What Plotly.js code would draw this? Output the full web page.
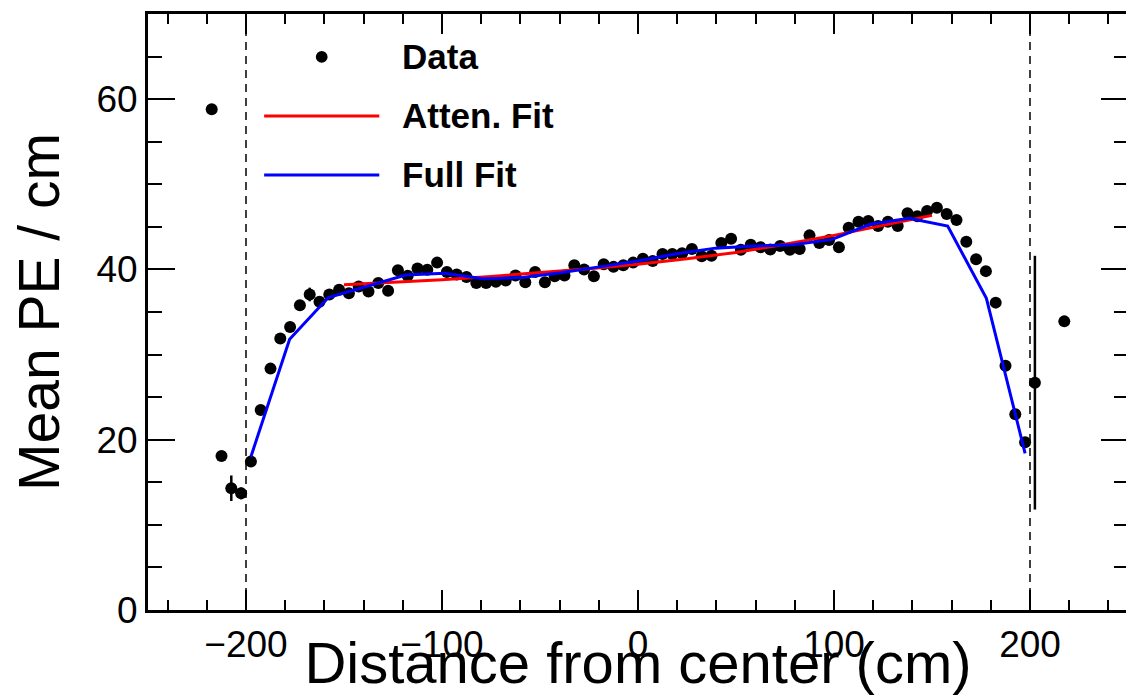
<!DOCTYPE html>
<html>
<head>
<meta charset="utf-8">
<script src="https://cdn.plot.ly/plotly-3.0.1.min.js"></script>
<style>html,body{margin:0;padding:0;overflow:hidden;background:#fff;}#plot{width:1128px;height:695px;}</style>
</head>
<body>
<div id="plot"></div>
<script>
// Data: mean PE per cm vs distance from center
const dataX = [-217.5,-212.5,-207.5,-202.5,-197.5,-192.5,-187.5,-182.5,-177.5,-172.5,-167.5,-162.5,-157.5,-152.5,-147.5,-142.5,-137.5,-132.5,-127.5,-122.5,-117.5,-112.5,-107.5,-102.5,-97.5,-92.5,-87.5,-82.5,-77.5,-72.5,-67.5,-62.5,-57.5,-52.5,-47.5,-42.5,-37.5,-32.5,-27.5,-22.5,-17.5,-12.5,-7.5,-2.5,2.5,7.5,12.5,17.5,22.5,27.5,32.5,37.5,42.5,47.5,52.5,57.5,62.5,67.5,72.5,77.5,82.5,87.5,92.5,97.5,102.5,107.5,112.5,117.5,122.5,127.5,132.5,137.5,142.5,147.5,152.5,157.5,162.5,167.5,172.5,177.5,182.5,187.5,192.5,197.5,202.5,217.5];
const dataY = [58.8,18.1,14.3,13.7,17.45,23.5,28.35,31.9,33.25,35.8,37.06,36.2,37.06,37.6,37.2,38.0,37.4,38.4,37.5,39.9,39.25,40.1,39.95,40.8,39.7,39.4,39.1,38.4,38.4,38.55,38.7,39.3,38.5,39.7,38.5,39.2,39.3,40.5,40.0,39.2,40.6,40.3,40.5,40.8,41.25,41.0,41.8,41.8,41.9,42.4,41.55,41.6,43.1,43.6,42.3,42.9,42.6,42.35,42.75,42.3,42.4,44.0,43.1,43.45,42.6,44.9,45.6,45.7,45.1,45.6,45.1,46.6,46.25,46.85,47.25,46.5,45.8,43.25,41.2,39.8,36.1,28.7,23.0,19.7,26.7,33.9];
const dataErr = [0.5,0.4,1.5,0.7,0.4,0.35,0.35,0.35,0.35,0.35,0.8,0.35,0.35,0.35,0.35,0.35,0.35,0.35,0.35,0.35,0.35,0.35,0.35,0.35,0.35,0.35,0.35,0.35,0.35,0.35,0.35,0.35,0.35,0.35,0.35,0.35,0.35,0.35,0.35,0.35,0.35,0.35,0.35,0.35,0.35,0.35,0.35,0.35,0.35,0.35,0.35,0.35,0.35,0.35,0.35,0.35,0.35,0.35,0.35,0.35,0.35,0.35,0.35,0.35,0.35,0.35,0.35,0.35,0.35,0.35,0.35,0.35,0.35,0.35,0.35,0.35,0.35,0.35,0.35,0.35,0.35,0.35,0.35,0.4,14.9,0.5];

// Attenuation fit curve
const attenX = [-150,-125,-100,-75,-50,-25,0,25,50,75,100,125,150];
const attenY = [38.2,38.48,38.8,39.18,39.6,40.08,40.6,41.25,42.0,42.95,44.0,45.15,46.35];

// Full fit curve
const fullX = [-197.5,-177.75,-158,-138.25,-118.5,-98.75,-79,-59.25,-39.5,-19.75,0,19.75,39.5,59.25,79,98.75,118.5,138.25,158,177.75,197.5];
const fullY = [18.0,31.8,36.7,38.0,39.35,39.55,38.9,39.05,39.6,40.3,41.0,41.85,42.5,42.75,42.9,43.5,45.3,46.0,45.1,36.6,18.4];

// Fiducial boundaries
const boundaryX = [-200, 200];

const legendNames = ['Data', 'Atten. Fit', 'Full Fit'];

const FONT = 'Liberation Sans, Arial, Helvetica, sans-serif';

const traces = [
  {x: dataX, y: dataY, type: 'scatter', mode: 'markers', name: legendNames[0],
   marker: {color: '#000', size: 12},
   error_y: {type: 'data', array: dataErr, visible: true, color: '#000', thickness: 2.5, width: 0}},
  {x: attenX, y: attenY, type: 'scatter', mode: 'lines', name: legendNames[1],
   line: {color: '#ff0000', width: 3}},
  {x: fullX, y: fullY, type: 'scatter', mode: 'lines', name: legendNames[2],
   line: {color: '#0000ff', width: 3}}
];

const shapes = boundaryX.map(v => ({type: 'line', xref: 'x', yref: 'y', x0: v, x1: v, y0: 0, y1: 70,
  line: {color: '#000', width: 1.5, dash: '8px,6px'}}));

// Legend drawn by hand to match the original layout
const legX0 = 0.1185, legX1 = 0.236, legTextX = 0.2575;
const legY = [0.928, 0.829, 0.730];
const legColors = ['#000', '#ff0000', '#0000ff'];
shapes.push({type: 'circle', xref: 'paper', yref: 'paper',
  x0: (legX0 + legX1) / 2 - 0.006, x1: (legX0 + legX1) / 2 + 0.006,
  y0: legY[0] - 0.0099, y1: legY[0] + 0.0099, fillcolor: '#000', line: {width: 0}});
for (let i = 1; i < 3; i++) {
  shapes.push({type: 'line', xref: 'paper', yref: 'paper', x0: legX0, x1: legX1, y0: legY[i], y1: legY[i],
    line: {color: legColors[i], width: 3}});
}
const annotations = legendNames.map((n, i) => ({xref: 'paper', yref: 'paper', x: legTextX, y: legY[i],
  xanchor: 'left', yanchor: 'middle', showarrow: false, text: '<b>' + n + '</b>',
  font: {family: FONT, size: 35, color: '#000'}}));

const layout = {
  width: 1128, height: 695,
  margin: {l: 148, r: 0, t: 14, b: 85},
  paper_bgcolor: '#fff', plot_bgcolor: '#fff',
  showlegend: false,
  font: {family: FONT, color: '#000'},
  xaxis: {
    range: [-250, 250], tickmode: 'linear', tick0: 0, dtick: 100,
    ticks: 'inside', ticklen: 20, tickwidth: 2, tickcolor: '#000',
    minor: {dtick: 20, tick0: 0, ticks: 'inside', ticklen: 10, tickwidth: 2, tickcolor: '#000', showgrid: false},
    showline: true, linewidth: 3, linecolor: '#000', mirror: 'ticks',
    showgrid: false, zeroline: false,
    tickfont: {family: FONT, size: 37, color: '#000'},
    title: {text: 'Distance from center (cm)', font: {family: FONT, size: 58, color: '#000'}, standoff: 0},
    automargin: false
  },
  yaxis: {
    range: [0, 70], tickmode: 'linear', tick0: 0, dtick: 20,
    ticks: 'inside', ticklen: 27, tickwidth: 2, tickcolor: '#000',
    minor: {dtick: 5, tick0: 0, ticks: 'inside', ticklen: 14, tickwidth: 2, tickcolor: '#000', showgrid: false},
    showline: true, linewidth: 3, linecolor: '#000', mirror: 'ticks',
    showgrid: false, zeroline: false,
    tickfont: {family: FONT, size: 37, color: '#000'},
    title: {text: 'Mean PE / cm', font: {family: FONT, size: 57, color: '#000'}, standoff: 19},
    automargin: false
  },
  shapes: shapes,
  annotations: annotations
};

Plotly.newPlot('plot', traces, layout, {displayModeBar: false, staticPlot: true});
</script>
</body>
</html>
